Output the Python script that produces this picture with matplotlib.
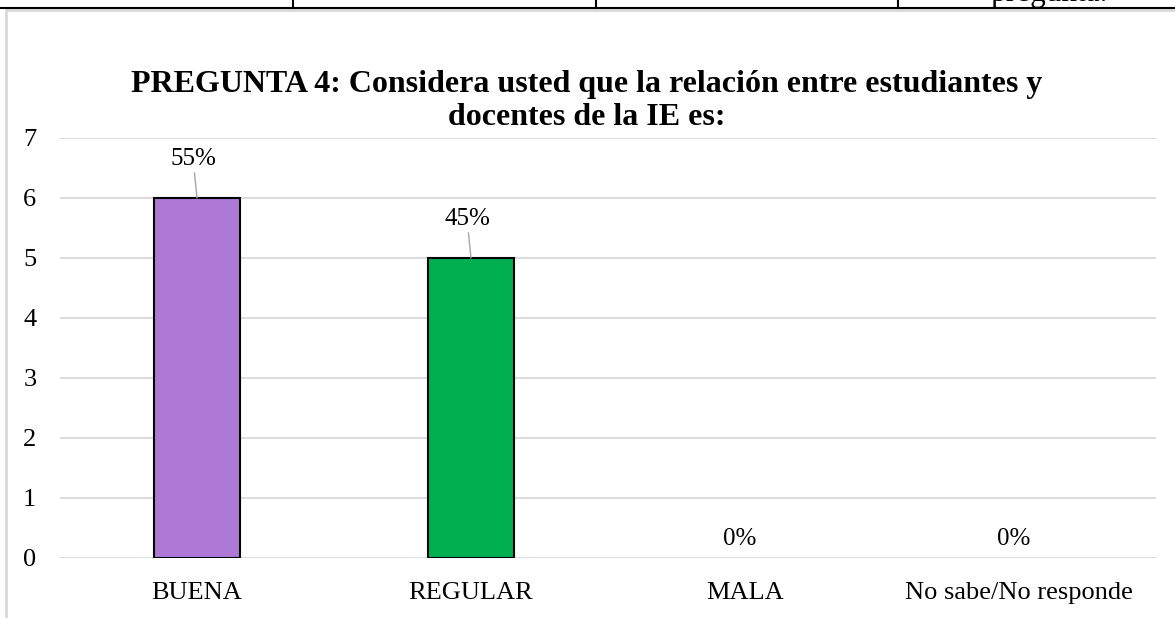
import matplotlib.pyplot as plt
from matplotlib.patches import Rectangle
from matplotlib.lines import Line2D

plt.rcParams['font.family'] = ['Liberation Serif', 'DejaVu Serif']

# --- DATA ---
CATEGORIES = ["BUENA", "REGULAR", "MALA", "No sabe/No responde"]
COUNTS = [6, 5, 0, 0]
PERCENT_LABELS = ["55%", "45%", "0%", "0%"]
BAR_COLORS = ["#AD78D6", "#00B050", "#AD78D6", "#AD78D6"]
TITLE = "PREGUNTA 4: Considera usted que la relación entre estudiantes y\ndocentes de la IE es:"

W, H = 1175, 618
fig = plt.figure(figsize=(W / 100, H / 100), dpi=100)

# document table lines above the chart
fig.add_artist(Line2D([0, 1], [1 - 8 / H, 1 - 8 / H], color="black", lw=1.5))
for xp in [293, 596, 898]:
    fig.add_artist(Line2D([xp / W, xp / W], [1 - 8 / H, 1], color="black", lw=1.5))
fig.text(990 / W, 1 - 1 / H, "pregunta.", fontsize=22.5, va="baseline", ha="left")

# chart border
fig.add_artist(Rectangle((6 / W, -0.05), 1.2, 1 - 10 / H + 0.05,
                         transform=fig.transFigure, fill=False,
                         edgecolor="#d9d9d9", lw=2))

ax = fig.add_axes([60 / W, 1 - 558 / H, (1156 - 60) / W, (558 - 138) / H])
x = list(range(len(CATEGORIES)))
edges = ["black" if v > 0 else "none" for v in COUNTS]
ax.bar(x, COUNTS, width=0.315, color=BAR_COLORS, edgecolor=edges, lw=1.5, zorder=3)

ax.set_xlim(-0.5, len(CATEGORIES) - 0.5)
ax.set_ylim(0, 7)
ax.set_yticks(range(0, 8))
ax.yaxis.grid(True, color="#d9d9d9", lw=1.3, zorder=0)
ax.set_axisbelow(True)
for s in ax.spines.values():
    s.set_visible(False)
ax.tick_params(axis="both", length=0, labelsize=19)
ax.tick_params(axis="y", pad=17)
ax.tick_params(axis="x", pad=17)
ax.set_xticks(x)
ax.set_xticklabels(CATEGORIES)

for xi, v, lab in zip(x, COUNTS, PERCENT_LABELS):
    if v > 0:
        ax.annotate(lab, (xi, v), xytext=(-4, 28), textcoords="offset pixels",
                    ha="center", va="bottom", fontsize=18,
                    arrowprops=dict(arrowstyle="-", color="#a6a6a6", lw=1,
                                    shrinkA=0, shrinkB=0))
    else:
        ax.annotate(lab, (xi, v), xytext=(-5, 8), textcoords="offset pixels",
                    ha="center", va="bottom", fontsize=18)

fig.text(587 / W, 1 - 101 / H, TITLE, ha="center", va="center",
         fontsize=23, fontweight="bold", linespacing=1.2)

fig.savefig("out.png", dpi=100)
